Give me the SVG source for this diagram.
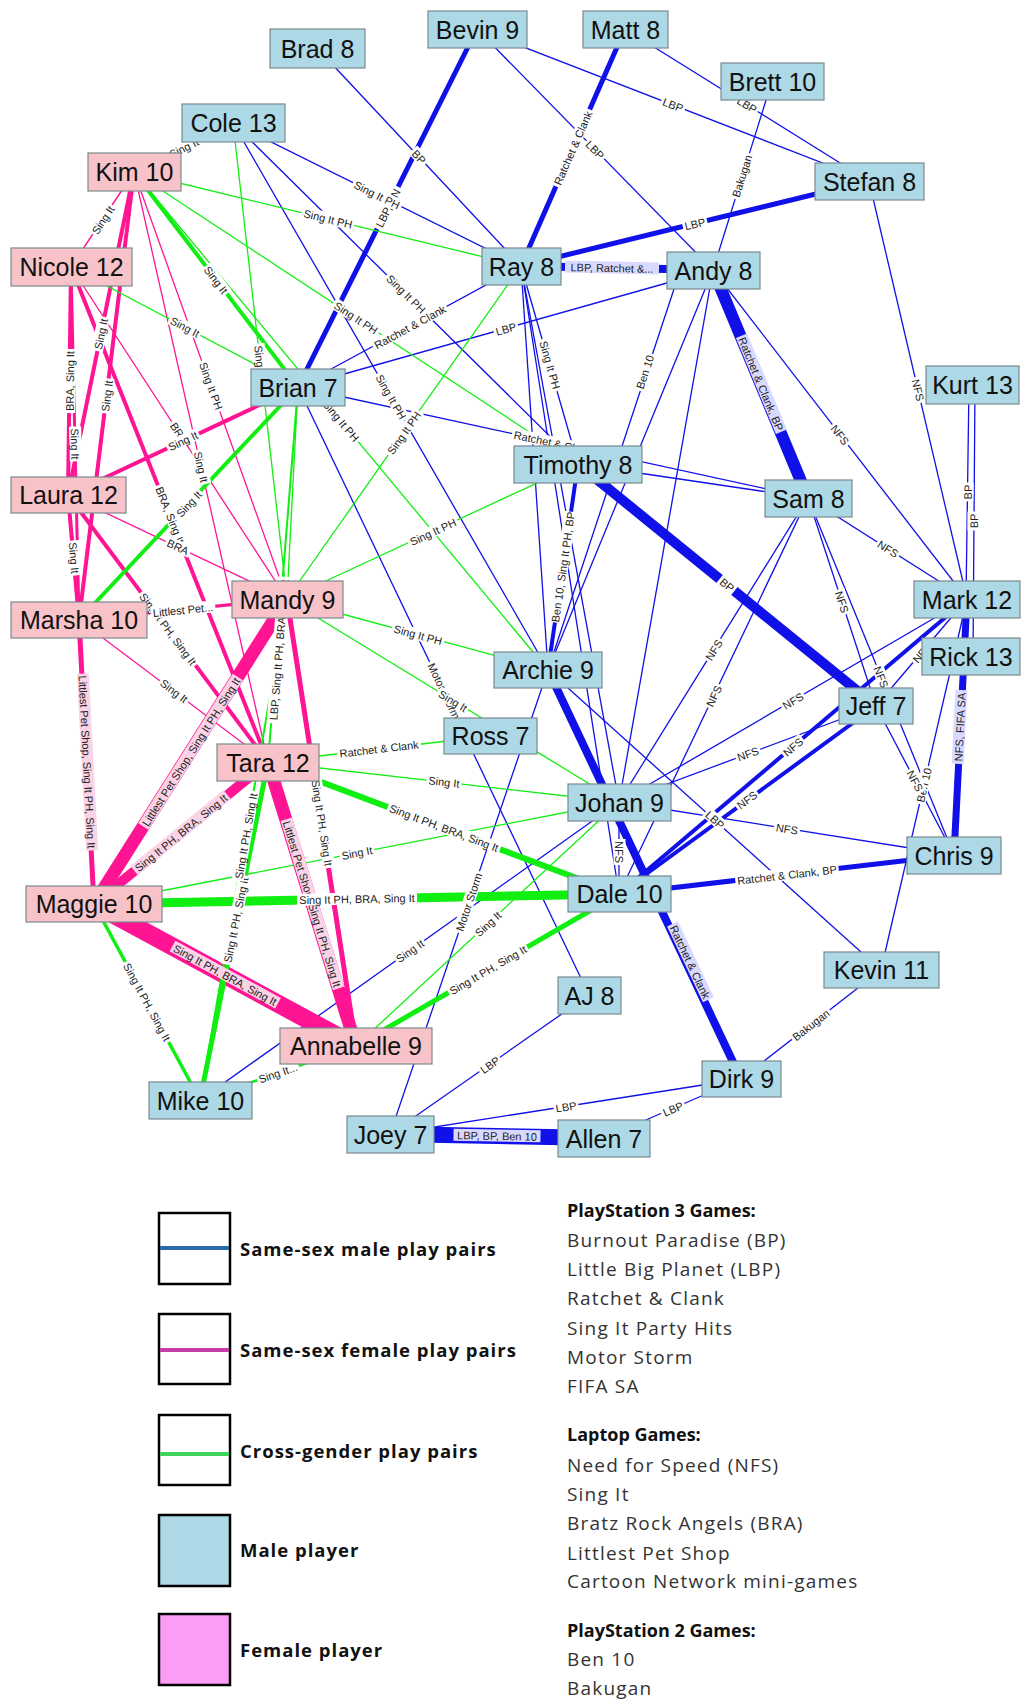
<svg xmlns="http://www.w3.org/2000/svg" width="1022" height="1706" viewBox="0 0 1022 1706">
<style>
.b{stroke:#1010e8;fill:none}
.p{stroke:#ff1493;fill:none}
.g{stroke:#11ee11;fill:none}
.lbl rect{fill:#fff}
.lbl.lv rect{fill:#d9d9ff}
.lbl.lp rect{fill:#fbd3e6}
.lbl text{font-family:"Liberation Sans",Arial,sans-serif;font-size:11px;fill:#222;text-anchor:middle}
.node rect{stroke:#7a8a8e;stroke-width:1.2}
.m rect{fill:#add8e6}
.f rect{fill:#f7c3c8}
.node text{font-family:"Liberation Sans",Arial,sans-serif;font-size:25px;fill:#111;text-anchor:middle}
.lg{font-family:"Open Sans","Liberation Sans",sans-serif;font-size:18.5px;font-weight:bold;fill:#111;letter-spacing:1px}
.lt{font-family:"Open Sans","Liberation Sans",sans-serif;font-size:19px;fill:#333;letter-spacing:1.2px}
.lh{font-family:"Open Sans","Liberation Sans",sans-serif;font-size:18px;font-weight:bold;fill:#111}
</style>
<g id="connectors">
<!-- blue -->
<line class="b" x1="477" y1="29" x2="298" y2="387" stroke-width="5"/>
<line class="b" x1="317" y1="48" x2="521" y2="266" stroke-width="1.3"/>
<line class="b" x1="477" y1="29" x2="869" y2="181" stroke-width="1.3"/>
<line class="b" x1="477" y1="29" x2="713" y2="270" stroke-width="1.3"/>
<line class="b" x1="625" y1="29" x2="521" y2="266" stroke-width="5"/>
<line class="b" x1="625" y1="29" x2="869" y2="181" stroke-width="1.3"/>
<line class="b" x1="772" y1="81" x2="713" y2="270" stroke-width="1.3"/>
<line class="b" x1="521" y1="266" x2="869" y2="181" stroke-width="5"/>
<line class="b" x1="521" y1="266" x2="713" y2="270" stroke-width="8"/>
<line class="b" x1="713" y1="270" x2="808" y2="498" stroke-width="12"/>
<line class="b" x1="869" y1="181" x2="967" y2="599" stroke-width="1.3"/>
<line class="b" x1="969" y1="385" x2="966" y2="599" stroke-width="1.3"/>
<line class="b" x1="975" y1="385" x2="973" y2="656" stroke-width="1.3"/>
<line class="b" x1="967" y1="599" x2="954" y2="855" stroke-width="7"/>
<line class="b" x1="967" y1="599" x2="619" y2="894" stroke-width="4"/>
<line class="b" x1="876" y1="706" x2="619" y2="894" stroke-width="4"/>
<line class="b" x1="808" y1="498" x2="967" y2="599" stroke-width="1.3"/>
<line class="b" x1="713" y1="270" x2="967" y2="599" stroke-width="1.3"/>
<line class="b" x1="967" y1="599" x2="619" y2="802" stroke-width="1.3"/>
<line class="b" x1="967" y1="599" x2="876" y2="706" stroke-width="1.3"/>
<line class="b" x1="967" y1="599" x2="881" y2="970" stroke-width="1.3"/>
<line class="b" x1="808" y1="498" x2="876" y2="706" stroke-width="1.3"/>
<line class="b" x1="808" y1="498" x2="954" y2="855" stroke-width="1.3"/>
<line class="b" x1="808" y1="498" x2="619" y2="802" stroke-width="1.3"/>
<line class="b" x1="808" y1="498" x2="619" y2="894" stroke-width="1.3"/>
<line class="b" x1="808" y1="498" x2="578" y2="464" stroke-width="1.3"/>
<line class="b" x1="578" y1="464" x2="876" y2="706" stroke-width="10"/>
<line class="b" x1="876" y1="706" x2="619" y2="802" stroke-width="1.3"/>
<line class="b" x1="876" y1="706" x2="954" y2="855" stroke-width="1.3"/>
<line class="b" x1="619" y1="894" x2="954" y2="855" stroke-width="5"/>
<line class="b" x1="619" y1="802" x2="954" y2="855" stroke-width="1.3"/>
<line class="b" x1="548" y1="670" x2="881" y2="970" stroke-width="1.3"/>
<line class="b" x1="881" y1="970" x2="741" y2="1079" stroke-width="1.3"/>
<line class="b" x1="548" y1="670" x2="741" y2="1079" stroke-width="8"/>
<line class="b" x1="390" y1="1134" x2="741" y2="1079" stroke-width="1.3"/>
<line class="b" x1="604" y1="1138" x2="741" y2="1079" stroke-width="1.3"/>
<line class="b" x1="390" y1="1134" x2="604" y2="1138" stroke-width="16"/>
<line class="b" x1="390" y1="1134" x2="589" y2="995" stroke-width="1.3"/>
<line class="b" x1="390" y1="1134" x2="548" y2="670" stroke-width="1.3"/>
<line class="b" x1="298" y1="387" x2="589" y2="995" stroke-width="1.3"/>
<line class="b" x1="233" y1="123" x2="521" y2="266" stroke-width="1.3"/>
<line class="b" x1="233" y1="123" x2="578" y2="464" stroke-width="1.3"/>
<line class="b" x1="233" y1="123" x2="548" y2="670" stroke-width="1.3"/>
<line class="b" x1="298" y1="387" x2="713" y2="270" stroke-width="1.3"/>
<line class="b" x1="298" y1="387" x2="521" y2="266" stroke-width="1.3"/>
<line class="b" x1="298" y1="387" x2="808" y2="498" stroke-width="1.3"/>
<line class="b" x1="578" y1="464" x2="548" y2="670" stroke-width="4"/>
<line class="b" x1="521" y1="266" x2="578" y2="464" stroke-width="1.3"/>
<line class="b" x1="521" y1="266" x2="548" y2="670" stroke-width="1.3"/>
<line class="b" x1="521" y1="266" x2="619" y2="894" stroke-width="1.3"/>
<line class="b" x1="521" y1="266" x2="619" y2="802" stroke-width="1.3"/>
<line class="b" x1="675" y1="286" x2="548" y2="670" stroke-width="1.3"/>
<line class="b" x1="713" y1="270" x2="548" y2="670" stroke-width="1.3"/>
<line class="b" x1="713" y1="270" x2="619" y2="802" stroke-width="1.3"/>
<line class="b" x1="619" y1="802" x2="619" y2="894" stroke-width="1.3"/>
<line class="b" x1="200" y1="1100" x2="619" y2="802" stroke-width="1.3"/>
<!-- pink -->
<line class="p" x1="134" y1="172" x2="71" y2="267" stroke-width="1.5"/>
<line class="p" x1="134" y1="172" x2="68" y2="495" stroke-width="4"/>
<line class="p" x1="134" y1="172" x2="79" y2="620" stroke-width="4"/>
<line class="p" x1="71" y1="267" x2="68" y2="495" stroke-width="4"/>
<line class="p" x1="71" y1="267" x2="79" y2="620" stroke-width="3"/>
<line class="p" x1="71" y1="267" x2="268" y2="762" stroke-width="4"/>
<line class="p" x1="71" y1="267" x2="287" y2="599" stroke-width="1.3"/>
<line class="p" x1="68" y1="495" x2="79" y2="620" stroke-width="4"/>
<line class="p" x1="68" y1="495" x2="287" y2="599" stroke-width="1.3"/>
<line class="p" x1="68" y1="495" x2="268" y2="762" stroke-width="4"/>
<line class="p" x1="68" y1="495" x2="298" y2="387" stroke-width="4"/>
<line class="p" x1="79" y1="620" x2="287" y2="599" stroke-width="3"/>
<line class="p" x1="79" y1="620" x2="268" y2="762" stroke-width="1.3"/>
<line class="p" x1="79" y1="620" x2="94" y2="904" stroke-width="5"/>
<line class="p" x1="134" y1="172" x2="287" y2="599" stroke-width="1.3"/>
<line class="p" x1="134" y1="172" x2="268" y2="762" stroke-width="1.3"/>
<line class="p" x1="287" y1="599" x2="94" y2="904" stroke-width="13"/>
<line class="p" x1="268" y1="762" x2="94" y2="904" stroke-width="10"/>
<line class="p" x1="268" y1="762" x2="356" y2="1046" stroke-width="13"/>
<line class="p" x1="287" y1="599" x2="356" y2="1046" stroke-width="5"/>
<line class="p" x1="94" y1="904" x2="356" y2="1046" stroke-width="18"/>
<!-- green -->
<line class="g" x1="233" y1="123" x2="134" y2="172" stroke-width="1.3"/>
<line class="g" x1="233" y1="123" x2="287" y2="599" stroke-width="1.3"/>
<line class="g" x1="134" y1="172" x2="298" y2="387" stroke-width="4"/>
<line class="g" x1="134" y1="172" x2="521" y2="266" stroke-width="1.3"/>
<line class="g" x1="134" y1="172" x2="578" y2="464" stroke-width="1.3"/>
<line class="g" x1="134" y1="172" x2="548" y2="670" stroke-width="1.3"/>
<line class="g" x1="71" y1="267" x2="298" y2="387" stroke-width="1.3"/>
<line class="g" x1="79" y1="620" x2="298" y2="387" stroke-width="4"/>
<line class="g" x1="298" y1="387" x2="287" y2="599" stroke-width="1.3"/>
<line class="g" x1="298" y1="387" x2="268" y2="762" stroke-width="2"/>
<line class="g" x1="521" y1="266" x2="287" y2="599" stroke-width="1.3"/>
<line class="g" x1="287" y1="599" x2="578" y2="464" stroke-width="1.3"/>
<line class="g" x1="287" y1="599" x2="548" y2="670" stroke-width="1.3"/>
<line class="g" x1="287" y1="599" x2="619" y2="802" stroke-width="1.3"/>
<line class="g" x1="268" y1="762" x2="490" y2="736" stroke-width="1.3"/>
<line class="g" x1="268" y1="762" x2="619" y2="802" stroke-width="1.3"/>
<line class="g" x1="268" y1="762" x2="619" y2="894" stroke-width="6"/>
<line class="g" x1="94" y1="904" x2="619" y2="802" stroke-width="1.3"/>
<line class="g" x1="94" y1="904" x2="619" y2="894" stroke-width="9"/>
<line class="g" x1="356" y1="1046" x2="619" y2="894" stroke-width="5"/>
<line class="g" x1="356" y1="1046" x2="619" y2="802" stroke-width="1.3"/>
<line class="g" x1="200" y1="1100" x2="356" y2="1046" stroke-width="2.5"/>
<line class="g" x1="94" y1="904" x2="200" y2="1100" stroke-width="3.5"/>
<line class="g" x1="268" y1="762" x2="200" y2="1100" stroke-width="5"/>
<line class="g" x1="287" y1="599" x2="200" y2="1100" stroke-width="2"/>
</g>
<g id="edge-labels">
<g class="lbl" transform="translate(388 208) rotate(-63.4)"><rect x="-23.5" y="-6.5" width="47" height="12"/><text y="4">LBP, CN</text></g>
<g class="lbl" transform="translate(419 157) rotate(46.9)"><rect x="-9.5" y="-6.5" width="19" height="12"/><text y="4">BP</text></g>
<g class="lbl" transform="translate(673 105) rotate(21.2)"><rect x="-12.5" y="-6.5" width="25" height="12"/><text y="4">LBP</text></g>
<g class="lbl" transform="translate(595 150) rotate(45.6)"><rect x="-12.5" y="-6.5" width="25" height="12"/><text y="4">LBP</text></g>
<g class="lbl" transform="translate(573 148) rotate(-66.3)"><rect x="-42" y="-6.5" width="84" height="12"/><text y="4">Ratchet &amp; Clank</text></g>
<g class="lbl" transform="translate(747 105) rotate(31.9)"><rect x="-12.5" y="-6.5" width="25" height="12"/><text y="4">LBP</text></g>
<g class="lbl" transform="translate(742 176) rotate(-72.7)"><rect x="-24" y="-6.5" width="48" height="12"/><text y="4">Bakugan</text></g>
<g class="lbl" transform="translate(695 224) rotate(-13.7)"><rect x="-12.5" y="-6.5" width="25" height="12"/><text y="4">LBP</text></g>
<g class="lbl lv" transform="translate(612 268) rotate(1.2)"><rect x="-47" y="-6.5" width="94" height="12"/><text y="4">LBP, Ratchet &amp;...</text></g>
<g class="lbl lv" transform="translate(761 384) rotate(67.4)"><rect x="-52" y="-6.5" width="104" height="12"/><text y="4">Ratchet &amp; Clank, BP</text></g>
<g class="lbl" transform="translate(918 390) rotate(76.8)"><rect x="-13" y="-6.5" width="26" height="12"/><text y="4">NFS</text></g>
<g class="lbl" transform="translate(968 492) rotate(-88.7)"><rect x="-9.5" y="-6.5" width="19" height="12"/><text y="4">BP</text></g>
<g class="lbl" transform="translate(974 521) rotate(-89.8)"><rect x="-9.5" y="-6.5" width="19" height="12"/><text y="4">BP</text></g>
<g class="lbl lv" transform="translate(960 727) rotate(-87.1)"><rect x="-37" y="-6.5" width="74" height="12"/><text y="4">NFS, FIFA SA</text></g>
<g class="lbl" transform="translate(793 747) rotate(-40.3)"><rect x="-13" y="-6.5" width="26" height="12"/><text y="4">NFS</text></g>
<g class="lbl" transform="translate(747 800) rotate(-36.2)"><rect x="-13" y="-6.5" width="26" height="12"/><text y="4">NFS</text></g>
<g class="lbl" transform="translate(888 549) rotate(32.4)"><rect x="-13" y="-6.5" width="26" height="12"/><text y="4">NFS</text></g>
<g class="lbl" transform="translate(840 435) rotate(52.3)"><rect x="-13" y="-6.5" width="26" height="12"/><text y="4">NFS</text></g>
<g class="lbl" transform="translate(793 701) rotate(-30.3)"><rect x="-13" y="-6.5" width="26" height="12"/><text y="4">NFS</text></g>
<g class="lbl" transform="translate(922 653) rotate(-49.6)"><rect x="-13" y="-6.5" width="26" height="12"/><text y="4">NFS</text></g>
<g class="lbl" transform="translate(924 785) rotate(-77)"><rect x="-19.5" y="-6.5" width="39" height="12"/><text y="4">Ben 10</text></g>
<g class="lbl" transform="translate(842 602) rotate(71.9)"><rect x="-13" y="-6.5" width="26" height="12"/><text y="4">NFS</text></g>
<g class="lbl" transform="translate(881 677) rotate(67.8)"><rect x="-13" y="-6.5" width="26" height="12"/><text y="4">NFS</text></g>
<g class="lbl" transform="translate(714 650) rotate(-58.1)"><rect x="-13" y="-6.5" width="26" height="12"/><text y="4">NFS</text></g>
<g class="lbl" transform="translate(714 696) rotate(-64.5)"><rect x="-13" y="-6.5" width="26" height="12"/><text y="4">NFS</text></g>
<g class="lbl" transform="translate(727 585) rotate(39.1)"><rect x="-9.5" y="-6.5" width="19" height="12"/><text y="4">BP</text></g>
<g class="lbl" transform="translate(748 754) rotate(-20.5)"><rect x="-13" y="-6.5" width="26" height="12"/><text y="4">NFS</text></g>
<g class="lbl" transform="translate(915 781) rotate(62.4)"><rect x="-13" y="-6.5" width="26" height="12"/><text y="4">NFS</text></g>
<g class="lbl" transform="translate(787 875) rotate(-6.6)"><rect x="-52" y="-6.5" width="104" height="12"/><text y="4">Ratchet &amp; Clank, BP</text></g>
<g class="lbl" transform="translate(787 829) rotate(9)"><rect x="-13" y="-6.5" width="26" height="12"/><text y="4">NFS</text></g>
<g class="lbl" transform="translate(715 820) rotate(42)"><rect x="-12.5" y="-6.5" width="25" height="12"/><text y="4">LBP</text></g>
<g class="lbl" transform="translate(811 1025) rotate(-37.9)"><rect x="-24" y="-6.5" width="48" height="12"/><text y="4">Bakugan</text></g>
<g class="lbl lv" transform="translate(690 962) rotate(64.7)"><rect x="-42" y="-6.5" width="84" height="12"/><text y="4">Ratchet &amp; Clank</text></g>
<g class="lbl" transform="translate(566 1107) rotate(-8.9)"><rect x="-12.5" y="-6.5" width="25" height="12"/><text y="4">LBP</text></g>
<g class="lbl" transform="translate(673 1109) rotate(-23.3)"><rect x="-12.5" y="-6.5" width="25" height="12"/><text y="4">LBP</text></g>
<g class="lbl lv" transform="translate(497 1136) rotate(1.1)"><rect x="-43.5" y="-6.5" width="87" height="12"/><text y="4">LBP, BP, Ben 10</text></g>
<g class="lbl" transform="translate(490 1065) rotate(-34.9)"><rect x="-12.5" y="-6.5" width="25" height="12"/><text y="4">LBP</text></g>
<g class="lbl" transform="translate(469 902) rotate(-71.2)"><rect x="-32.5" y="-6.5" width="65" height="12"/><text y="4">Motor Storm</text></g>
<g class="lbl" transform="translate(444 691) rotate(64.4)"><rect x="-32.5" y="-6.5" width="65" height="12"/><text y="4">Motor Storm</text></g>
<g class="lbl" transform="translate(377 195) rotate(26.4)"><rect x="-27" y="-6.5" width="54" height="12"/><text y="4">Sing It PH</text></g>
<g class="lbl" transform="translate(406 294) rotate(44.7)"><rect x="-27" y="-6.5" width="54" height="12"/><text y="4">Sing It PH</text></g>
<g class="lbl" transform="translate(391 397) rotate(60.1)"><rect x="-27" y="-6.5" width="54" height="12"/><text y="4">Sing It PH</text></g>
<g class="lbl" transform="translate(506 329) rotate(-15.7)"><rect x="-12.5" y="-6.5" width="25" height="12"/><text y="4">LBP</text></g>
<g class="lbl" transform="translate(410 327) rotate(-28.5)"><rect x="-42" y="-6.5" width="84" height="12"/><text y="4">Ratchet &amp; Clank</text></g>
<g class="lbl" transform="translate(553 443) rotate(12.3)"><rect x="-42" y="-6.5" width="84" height="12"/><text y="4">Ratchet &amp; Clank</text></g>
<g class="lbl" transform="translate(563 567) rotate(-81.7)"><rect x="-56" y="-6.5" width="112" height="12"/><text y="4">Ben 10, Sing It PH, BP</text></g>
<g class="lbl" transform="translate(550 365) rotate(73.9)"><rect x="-27" y="-6.5" width="54" height="12"/><text y="4">Sing It PH</text></g>
<g class="lbl" transform="translate(645 372) rotate(-71.8)"><rect x="-19.5" y="-6.5" width="39" height="12"/><text y="4">Ben 10</text></g>
<g class="lbl" transform="translate(619 852) rotate(90)"><rect x="-13" y="-6.5" width="26" height="12"/><text y="4">NFS</text></g>
<g class="lbl" transform="translate(410 951) rotate(-35.4)"><rect x="-17.5" y="-6.5" width="35" height="12"/><text y="4">Sing It</text></g>
<g class="lbl" transform="translate(103 220) rotate(-56.4)"><rect x="-17.5" y="-6.5" width="35" height="12"/><text y="4">Sing It</text></g>
<g class="lbl" transform="translate(101 334) rotate(-78.5)"><rect x="-17.5" y="-6.5" width="35" height="12"/><text y="4">Sing It</text></g>
<g class="lbl" transform="translate(107 396) rotate(-83)"><rect x="-17.5" y="-6.5" width="35" height="12"/><text y="4">Sing It</text></g>
<g class="lbl" transform="translate(70 381) rotate(-89.3)"><rect x="-32" y="-6.5" width="64" height="12"/><text y="4">BRA, Sing It</text></g>
<g class="lbl" transform="translate(75 444) rotate(88.7)"><rect x="-17.5" y="-6.5" width="35" height="12"/><text y="4">Sing It</text></g>
<g class="lbl" transform="translate(170 515) rotate(68.3)"><rect x="-32" y="-6.5" width="64" height="12"/><text y="4">BRA, Sing It</text></g>
<g class="lbl" transform="translate(179 433) rotate(57)"><rect x="-13.5" y="-6.5" width="27" height="12"/><text y="4">BRA</text></g>
<g class="lbl" transform="translate(74 558) rotate(85)"><rect x="-17.5" y="-6.5" width="35" height="12"/><text y="4">Sing It</text></g>
<g class="lbl" transform="translate(178 547) rotate(25.4)"><rect x="-13.5" y="-6.5" width="27" height="12"/><text y="4">BRA</text></g>
<g class="lbl" transform="translate(168 629) rotate(53.2)"><rect x="-45.5" y="-6.5" width="91" height="12"/><text y="4">Sing It PH, Sing It</text></g>
<g class="lbl" transform="translate(183 441) rotate(-25.2)"><rect x="-17.5" y="-6.5" width="35" height="12"/><text y="4">Sing It</text></g>
<g class="lbl" transform="translate(183 610) rotate(-5.8)"><rect x="-32.5" y="-6.5" width="65" height="12"/><text y="4">Littlest Pet...</text></g>
<g class="lbl" transform="translate(174 691) rotate(36.9)"><rect x="-17.5" y="-6.5" width="35" height="12"/><text y="4">Sing It</text></g>
<g class="lbl lp" transform="translate(87 762) rotate(87)"><rect x="-88.5" y="-6.5" width="177" height="12"/><text y="4">Littlest Pet Shop, Sing It PH, Sing It</text></g>
<g class="lbl" transform="translate(211 386) rotate(70.3)"><rect x="-27" y="-6.5" width="54" height="12"/><text y="4">Sing It PH</text></g>
<g class="lbl" transform="translate(201 467) rotate(77.2)"><rect x="-17.5" y="-6.5" width="35" height="12"/><text y="4">Sing It</text></g>
<g class="lbl lp" transform="translate(191 752) rotate(-57.7)"><rect x="-88.5" y="-6.5" width="177" height="12"/><text y="4">Littlest Pet Shop, Sing It PH, Sing It</text></g>
<g class="lbl lp" transform="translate(181 833) rotate(-39.2)"><rect x="-60" y="-6.5" width="120" height="12"/><text y="4">Sing It PH, BRA, Sing It</text></g>
<g class="lbl lp" transform="translate(312 904) rotate(72.8)"><rect x="-88.5" y="-6.5" width="177" height="12"/><text y="4">Littlest Pet Shop, Sing It PH, Sing It</text></g>
<g class="lbl" transform="translate(322 823) rotate(81.2)"><rect x="-45.5" y="-6.5" width="91" height="12"/><text y="4">Sing It PH, Sing It</text></g>
<g class="lbl lp" transform="translate(225 975) rotate(28.5)"><rect x="-60" y="-6.5" width="120" height="12"/><text y="4">Sing It PH, BRA, Sing It</text></g>
<g class="lbl" transform="translate(184 148) rotate(-26.3)"><rect x="-17.5" y="-6.5" width="35" height="12"/><text y="4">Sing It</text></g>
<g class="lbl" transform="translate(260 361) rotate(83.5)"><rect x="-17.5" y="-6.5" width="35" height="12"/><text y="4">Sing It</text></g>
<g class="lbl" transform="translate(216 280) rotate(52.7)"><rect x="-17.5" y="-6.5" width="35" height="12"/><text y="4">Sing It</text></g>
<g class="lbl" transform="translate(328 219) rotate(13.7)"><rect x="-27" y="-6.5" width="54" height="12"/><text y="4">Sing It PH</text></g>
<g class="lbl" transform="translate(356 318) rotate(33.3)"><rect x="-27" y="-6.5" width="54" height="12"/><text y="4">Sing It PH</text></g>
<g class="lbl" transform="translate(341 421) rotate(50.3)"><rect x="-27" y="-6.5" width="54" height="12"/><text y="4">Sing It PH</text></g>
<g class="lbl" transform="translate(185 327) rotate(27.9)"><rect x="-17.5" y="-6.5" width="35" height="12"/><text y="4">Sing It</text></g>
<g class="lbl" transform="translate(189 504) rotate(-46.8)"><rect x="-17.5" y="-6.5" width="35" height="12"/><text y="4">Sing It</text></g>
<g class="lbl" transform="translate(279 650) rotate(-85.4)"><rect x="-73.5" y="-6.5" width="147" height="12"/><text y="4">LBP, Sing It PH, BRA, Sing It</text></g>
<g class="lbl" transform="translate(404 433) rotate(-54.9)"><rect x="-27" y="-6.5" width="54" height="12"/><text y="4">Sing It PH</text></g>
<g class="lbl" transform="translate(433 532) rotate(-24.9)"><rect x="-27" y="-6.5" width="54" height="12"/><text y="4">Sing It PH</text></g>
<g class="lbl" transform="translate(418 635) rotate(15.2)"><rect x="-27" y="-6.5" width="54" height="12"/><text y="4">Sing It PH</text></g>
<g class="lbl" transform="translate(453 701) rotate(31.4)"><rect x="-17.5" y="-6.5" width="35" height="12"/><text y="4">Sing It</text></g>
<g class="lbl" transform="translate(379 749) rotate(-6.7)"><rect x="-42" y="-6.5" width="84" height="12"/><text y="4">Ratchet &amp; Clank</text></g>
<g class="lbl" transform="translate(444 782) rotate(6.5)"><rect x="-17.5" y="-6.5" width="35" height="12"/><text y="4">Sing It</text></g>
<g class="lbl" transform="translate(444 828) rotate(20.6)"><rect x="-60" y="-6.5" width="120" height="12"/><text y="4">Sing It PH, BRA, Sing It</text></g>
<g class="lbl" transform="translate(357 853) rotate(-11)"><rect x="-17.5" y="-6.5" width="35" height="12"/><text y="4">Sing It</text></g>
<g class="lbl" transform="translate(357 899) rotate(-1.1)"><rect x="-60" y="-6.5" width="120" height="12"/><text y="4">Sing It PH, BRA, Sing It</text></g>
<g class="lbl" transform="translate(488 970) rotate(-30)"><rect x="-45.5" y="-6.5" width="91" height="12"/><text y="4">Sing It PH, Sing It</text></g>
<g class="lbl" transform="translate(488 924) rotate(-42.9)"><rect x="-17.5" y="-6.5" width="35" height="12"/><text y="4">Sing It</text></g>
<g class="lbl" transform="translate(278 1073) rotate(-19.1)"><rect x="-22" y="-6.5" width="44" height="12"/><text y="4">Sing It...</text></g>
<g class="lbl" transform="translate(147 1002) rotate(61.6)"><rect x="-45.5" y="-6.5" width="91" height="12"/><text y="4">Sing It PH, Sing It</text></g>
<g class="lbl" transform="translate(236 920) rotate(-78.6)"><rect x="-45.5" y="-6.5" width="91" height="12"/><text y="4">Sing It PH, Sing It</text></g>
<g class="lbl" transform="translate(246 836) rotate(-80.1)"><rect x="-45.5" y="-6.5" width="91" height="12"/><text y="4">Sing It PH, Sing It</text></g>
</g>
<g id="nodes">
<g id="n-brad" class="node m"><rect x="270" y="29" width="95" height="39"/><text x="317.5" y="57.5">Brad 8</text></g>
<g id="n-bevin" class="node m"><rect x="428" y="11" width="99" height="37"/><text x="477.5" y="38.5">Bevin 9</text></g>
<g id="n-matt" class="node m"><rect x="583" y="11" width="85" height="37"/><text x="625.5" y="38.5">Matt 8</text></g>
<g id="n-brett" class="node m"><rect x="721" y="63" width="103" height="37"/><text x="772.5" y="90.5">Brett 10</text></g>
<g id="n-cole" class="node m"><rect x="182" y="104" width="103" height="38"/><text x="233.5" y="132">Cole 13</text></g>
<g id="n-kim" class="node f"><rect x="88" y="153" width="93" height="38"/><text x="134.5" y="181">Kim 10</text></g>
<g id="n-stefan" class="node m"><rect x="815" y="163" width="109" height="37"/><text x="869.5" y="190.5">Stefan 8</text></g>
<g id="n-nicole" class="node f"><rect x="11" y="248" width="121" height="38"/><text x="71.5" y="276">Nicole 12</text></g>
<g id="n-ray" class="node m"><rect x="482" y="248" width="79" height="37"/><text x="521.5" y="275.5">Ray 8</text></g>
<g id="n-andy" class="node m"><rect x="667" y="252" width="93" height="37"/><text x="713.5" y="279.5">Andy 8</text></g>
<g id="n-brian" class="node m"><rect x="251" y="369" width="94" height="37"/><text x="298" y="396.5">Brian 7</text></g>
<g id="n-kurt" class="node m"><rect x="926" y="366" width="93" height="38"/><text x="972.5" y="394">Kurt 13</text></g>
<g id="n-timothy" class="node m"><rect x="514" y="446" width="128" height="37"/><text x="578" y="473.5">Timothy 8</text></g>
<g id="n-laura" class="node f"><rect x="11" y="477" width="115" height="36"/><text x="68.5" y="504">Laura 12</text></g>
<g id="n-sam" class="node m"><rect x="765" y="480" width="87" height="37"/><text x="808.5" y="507.5">Sam 8</text></g>
<g id="n-marsha" class="node f"><rect x="11" y="602" width="136" height="36"/><text x="79" y="629">Marsha 10</text></g>
<g id="n-mandy" class="node f"><rect x="232" y="581" width="111" height="37"/><text x="287.5" y="608.5">Mandy 9</text></g>
<g id="n-mark" class="node m"><rect x="914" y="581" width="106" height="37"/><text x="967" y="608.5">Mark 12</text></g>
<g id="n-rick" class="node m"><rect x="922" y="638" width="98" height="37"/><text x="971" y="665.5">Rick 13</text></g>
<g id="n-archie" class="node m"><rect x="494" y="652" width="108" height="36"/><text x="548" y="679">Archie 9</text></g>
<g id="n-jeff" class="node m"><rect x="839" y="688" width="74" height="36"/><text x="876" y="715">Jeff 7</text></g>
<g id="n-ross" class="node m"><rect x="444" y="718" width="93" height="36"/><text x="490.5" y="745">Ross 7</text></g>
<g id="n-tara" class="node f"><rect x="217" y="744" width="102" height="37"/><text x="268" y="771.5">Tara 12</text></g>
<g id="n-johan" class="node m"><rect x="568" y="784" width="103" height="37"/><text x="619.5" y="811.5">Johan 9</text></g>
<g id="n-dale" class="node m"><rect x="568" y="876" width="103" height="36"/><text x="619.5" y="903">Dale 10</text></g>
<g id="n-chris" class="node m"><rect x="907" y="837" width="94" height="37"/><text x="954" y="864.5">Chris 9</text></g>
<g id="n-maggie" class="node f"><rect x="26" y="886" width="136" height="36"/><text x="94" y="913">Maggie 10</text></g>
<g id="n-kevin" class="node m"><rect x="824" y="952" width="115" height="36"/><text x="881.5" y="979">Kevin 11</text></g>
<g id="n-aj" class="node m"><rect x="558" y="977" width="63" height="37"/><text x="589.5" y="1004.5">AJ 8</text></g>
<g id="n-annabelle" class="node f"><rect x="280" y="1028" width="152" height="36"/><text x="356" y="1055">Annabelle 9</text></g>
<g id="n-dirk" class="node m"><rect x="702" y="1061" width="79" height="36"/><text x="741.5" y="1088">Dirk 9</text></g>
<g id="n-mike" class="node m"><rect x="149" y="1082" width="103" height="37"/><text x="200.5" y="1109.5">Mike 10</text></g>
<g id="n-joey" class="node m"><rect x="347" y="1116" width="87" height="37"/><text x="390.5" y="1143.5">Joey 7</text></g>
<g id="n-allen" class="node m"><rect x="558" y="1120" width="92" height="37"/><text x="604" y="1147.5">Allen 7</text></g>
</g>
<g id="legend">
<rect x="159" y="1213" width="71" height="71" fill="#fff" stroke="#000" stroke-width="2.5"/>
<line x1="160" y1="1248" x2="229" y2="1248" stroke="#2a6aa6" stroke-width="4"/>
<text class="lg" x="240" y="1256">Same-sex male play pairs</text>
<rect x="159" y="1314" width="71" height="70" fill="#fff" stroke="#000" stroke-width="2.5"/>
<line x1="160" y1="1350" x2="229" y2="1350" stroke="#c63ca8" stroke-width="4"/>
<text class="lg" x="240" y="1357">Same-sex female play pairs</text>
<rect x="159" y="1415" width="71" height="70" fill="#fff" stroke="#000" stroke-width="2.5"/>
<line x1="160" y1="1454" x2="229" y2="1454" stroke="#3ed35a" stroke-width="4"/>
<text class="lg" x="240" y="1458">Cross-gender play pairs</text>
<rect x="159" y="1515" width="71" height="71" fill="#add8e6" stroke="#000" stroke-width="2.5"/>
<text class="lg" x="240" y="1557">Male player</text>
<rect x="159" y="1614" width="71" height="71" fill="#fb9cf5" stroke="#000" stroke-width="2.5"/>
<text class="lg" x="240" y="1657">Female player</text>
<text class="lh" x="567" y="1217">PlayStation 3 Games:</text>
<text class="lt" x="567" y="1247">Burnout Paradise (BP)</text>
<text class="lt" x="567" y="1276">Little Big Planet (LBP)</text>
<text class="lt" x="567" y="1305">Ratchet &amp; Clank</text>
<text class="lt" x="567" y="1335">Sing It Party Hits</text>
<text class="lt" x="567" y="1364">Motor Storm</text>
<text class="lt" x="567" y="1393">FIFA SA</text>
<text class="lh" x="567" y="1441">Laptop Games:</text>
<text class="lt" x="567" y="1472">Need for Speed (NFS)</text>
<text class="lt" x="567" y="1501">Sing It</text>
<text class="lt" x="567" y="1530">Bratz Rock Angels (BRA)</text>
<text class="lt" x="567" y="1560">Littlest Pet Shop</text>
<text class="lt" x="567" y="1588">Cartoon Network mini-games</text>
<text class="lh" x="567" y="1637">PlayStation 2 Games:</text>
<text class="lt" x="567" y="1666">Ben 10</text>
<text class="lt" x="567" y="1695">Bakugan</text>
</g>
</svg>
